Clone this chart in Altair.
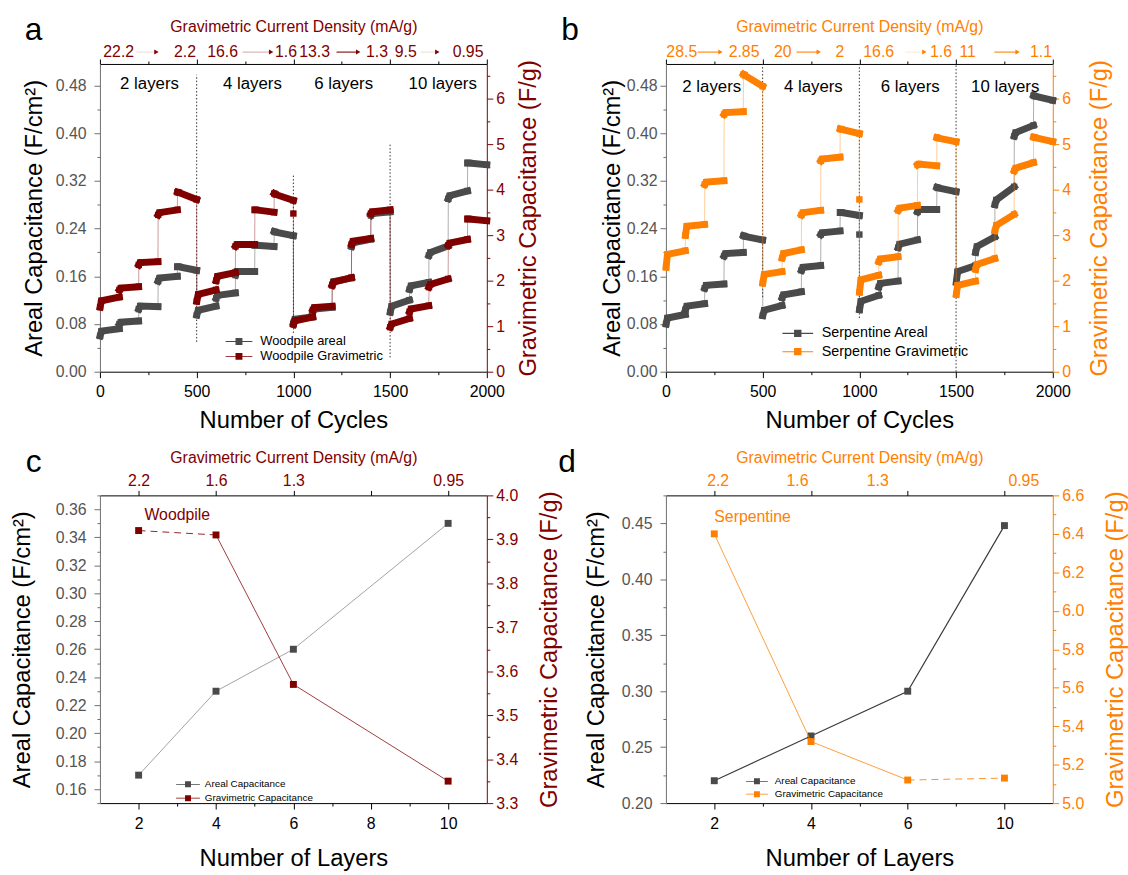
import altair as alt
import pandas as pd

FONT = "Liberation Sans"
INK = "#000000"
GRAY = "#4a4a4a"
AXIS_GRAY = "#6e6e6e"
LABEL_GRAY = "#555555"
WINE = "#800000"
ORANGE = "#ff8000"

# ---------------------------------------------------------------- values
LAYER_NAMES = ["2 layers", "4 layers", "6 layers", "10 layers"]
LAYER_COUNTS = [2, 4, 6, 10]
RATE_LABELS = ["2.2", "1.6", "1.3", "0.95"]

# Woodpile cycling: per 100-cycle rate step -> first point, plateau start, plateau end
wood_areal_first = [0.060, 0.080, 0.105, 0.152, 0.176, 0.095, 0.123, 0.162, 0.212, 0.235,
                    0.082, 0.100, 0.146, 0.210, 0.262, 0.100, 0.138, 0.195, 0.290, 0.350]
wood_areal_start = [0.068, 0.083, 0.110, 0.157, 0.176, 0.103, 0.128, 0.168, 0.212, 0.234,
                    0.088, 0.105, 0.151, 0.216, 0.265, 0.110, 0.144, 0.200, 0.295, 0.350]
wood_areal_end = [0.072, 0.085, 0.109, 0.160, 0.170, 0.110, 0.132, 0.168, 0.210, 0.228,
                  0.092, 0.108, 0.157, 0.222, 0.268, 0.120, 0.150, 0.211, 0.303, 0.347]
wood_grav_first = [1.42, 1.80, 2.35, 3.45, 3.95, 1.55, 2.00, 2.76, 3.56, 3.92,
                   1.04, 1.36, 1.90, 2.80, 3.48, 0.98, 1.32, 1.86, 2.78, 3.36]
wood_grav_start = [1.56, 1.84, 2.40, 3.50, 3.94, 1.70, 2.10, 2.80, 3.56, 3.90,
                   1.12, 1.41, 1.97, 2.87, 3.52, 1.05, 1.38, 1.92, 2.83, 3.36]
wood_grav_end = [1.64, 1.87, 2.42, 3.56, 3.79, 1.80, 2.18, 2.80, 3.51, 3.77,
                 1.20, 1.44, 2.07, 2.93, 3.56, 1.17, 1.45, 2.04, 2.91, 3.32]
wood_spike_areal_cycle, wood_spike_areal = [], []
wood_spike_grav_cycle, wood_spike_grav = [1000], [3.48]

# Serpentine cycling
serp_areal_first = [0.080, 0.104, 0.140, 0.194, 0.228, 0.094, 0.124, 0.170, 0.230, 0.267,
                    0.104, 0.142, 0.208, 0.268, 0.309, 0.150, 0.200, 0.280, 0.395, 0.463]
serp_areal_start = [0.090, 0.110, 0.145, 0.198, 0.227, 0.103, 0.129, 0.175, 0.233, 0.267,
                    0.118, 0.148, 0.214, 0.272, 0.308, 0.168, 0.210, 0.288, 0.401, 0.462]
serp_areal_end = [0.096, 0.114, 0.147, 0.200, 0.221, 0.111, 0.134, 0.178, 0.236, 0.262,
                  0.128, 0.152, 0.221, 0.272, 0.302, 0.178, 0.226, 0.310, 0.413, 0.455]
serp_grav_first = [2.30, 3.00, 4.12, 5.66, 6.54, 1.95, 2.50, 3.45, 4.64, 5.34,
                   1.75, 2.42, 3.55, 4.55, 5.15, 1.70, 2.25, 3.10, 4.42, 5.16]
serp_grav_start = [2.58, 3.20, 4.17, 5.70, 6.52, 2.14, 2.60, 3.50, 4.68, 5.33,
                   2.02, 2.48, 3.60, 4.57, 5.14, 1.90, 2.36, 3.22, 4.48, 5.15]
serp_grav_end = [2.66, 3.24, 4.20, 5.72, 6.28, 2.20, 2.68, 3.55, 4.72, 5.24,
                 2.12, 2.53, 3.66, 4.53, 5.06, 1.99, 2.49, 3.46, 4.60, 5.06]
serp_spike_areal_cycle, serp_spike_areal = [1000], [0.23]
serp_spike_grav_cycle, serp_spike_grav = [1000], [3.79]

# current-density annotations above the cycling panels (cycle = anchor on the x scale)
wood_rate_text = ["22.2", "2.2", "16.6", "1.6", "13.3", "1.3", "9.5", "0.95"]
wood_rate_cycle = [97, 440, 634, 962, 1110, 1432, 1581, 1903]
wood_arrow_from = [189, 737, 1223, 1657]
wood_arrow_to = [292, 885, 1335, 1744]
wood_arrow_alpha = [0.12, 0.3, 0.9, 0.12]
serp_rate_text = ["28.5", "2.85", "20", "2", "16.6", "1.6", "11", "1.1"]
serp_rate_cycle = [82, 404, 604, 900, 1100, 1422, 1560, 1939]
serp_arrow_from = [164, 675, 1237, 1698]
serp_arrow_to = [282, 790, 1336, 1818]
serp_arrow_alpha = [0.9, 0.9, 0.15, 0.9]

# layer-group captions and separators
wood_layer_cycle = [256, 788, 1260, 1772]
serp_layer_cycle = [237, 762, 1263, 1754]
sep_cycle = [500, 1000, 1500]
wood_sep_low = [0.050, 0.065, 0.024]
wood_sep_high = [0.498, 0.332, 0.382]
serp_sep_low = [0.125, 0.090, 0.0]
serp_sep_high = [0.516, 0.516, 0.516]

# capacitance vs number of layers
wood_areal_layers = [0.17, 0.23, 0.26, 0.35]
wood_grav_layers = [3.92, 3.91, 3.57, 3.35]
serp_areal_layers = [0.22, 0.26, 0.30, 0.448]
serp_grav_layers = [6.40, 5.32, 5.12, 5.13]
serp_rate_pos = [0.04, 0.86, 1.69, 3.2]

# ---------------------------------------------------------------- helpers
STEP = 100
STEP_POINTS = (1, 8, STEP)


def legend_symbol(half_len):
    # filled square marker with a thin line through it, in symbol units (square = [-1, 1])
    L = half_len
    return (f"M-{L},-0.14H-1V-1H1V-0.14H{L}V0.14H1V1H-1V0.14H-{L}Z")


def step_frame(first, start, end, series):
    rows = []
    for i, vals in enumerate(zip(first, start, end)):
        for k, (off, v) in enumerate(zip(STEP_POINTS, vals)):
            rows.append({"cycle": i * STEP + off, "value": v, "step": i,
                         "order": 3 * i + k, "series": series})
    return pd.DataFrame(rows)


def frange(lo, hi, step):
    n = int(round((hi - lo) / step))
    return [round(lo + i * step, 4) for i in range(n + 1)]


def minor_axis(orient, values, color):
    return alt.Axis(orient=orient, values=values, labels=False, domain=False,
                    tickSize=3, tickColor=color, title=None, grid=False)


def major_axis(orient, values, fmt, title, line_color, label_color, title_color, **kw):
    if orient == "right":
        kw.update(titleAngle=270, titleBaseline="top")
    return alt.Axis(orient=orient, values=values, format=fmt, title=title,
                    domainColor=line_color, tickColor=line_color, labelColor=label_color,
                    titleColor=title_color, grid=False, tickSize=6, labelFlush=False, **kw)


def make_legend(x, y, size, half_len, font_size, row_pad, offset):
    return alt.Legend(orient="none", legendX=x, legendY=y, title=None,
                      symbolType=legend_symbol(half_len), symbolSize=size, symbolStrokeWidth=0,
                      labelFont=FONT, labelFontSize=font_size, labelColor=INK,
                      rowPadding=row_pad, labelOffset=offset, padding=0)


def letter_layer(letter, dx):
    return alt.Chart(pd.DataFrame({"t": [letter]})).mark_text(
        font=FONT, fontSize=32, color=INK, align="center", baseline="alphabetic"
    ).encode(x=alt.value(dx), y=alt.value(-24), text="t:N")


def cycling_panel(areal, grav, spikes, names, accent, letter, letter_dx, rates, arrows,
                  seps, layer_cycle, layer_y, legend, left_label_pad, left_pad, right_pad):
    xs = alt.Scale(domain=[0, 2000], nice=False, zero=False)
    ya = alt.Scale(domain=[0, 0.516], nice=False, zero=False)
    yg = alt.Scale(domain=[0, 6.77], nice=False, zero=False)
    cs = alt.Scale(domain=names, range=[GRAY, accent])

    a_df = step_frame(*areal, names[0])
    g_df = step_frame(*grav, names[1])

    cyc_major = [0, 500, 1000, 1500, 2000]
    cyc_minor = [250, 750, 1250, 1750]
    x_bottom = major_axis("bottom", cyc_major, "d", "Number of Cycles", INK, INK, INK,
                          labelPadding=6, titlePadding=9)
    x_top = alt.Axis(orient="top", values=cyc_major, labels=False, grid=False, tickSize=5,
                     domainColor=INK, tickColor=INK,
                     title="Gravimetric Current Density (mA/g)", titleColor=accent,
                     titleFontSize=16, titlePadding=24)
    y_left = major_axis("left", frange(0, 0.48, 0.08), ".2f", "Areal Capacitance (F/cm²)",
                        AXIS_GRAY, LABEL_GRAY, INK, labelPadding=left_label_pad,
                        titlePadding=left_pad)
    y_right = major_axis("right", list(range(7)), "d", "Gravimetric Capacitance (F/g)",
                         accent, accent, accent, labelPadding=3, titlePadding=right_pad)

    sep_df = pd.DataFrame({"cycle": sep_cycle, "low": seps[0], "high": seps[1]})
    sep = alt.Chart(sep_df).mark_rule(color="#333333", strokeWidth=1, strokeDash=[1.5, 2]).encode(
        x=alt.X("cycle:Q", scale=xs, axis=minor_axis("top", cyc_minor, INK)),
        y=alt.Y("low:Q", scale=ya, axis=None), y2="high:Q")

    cap_df = pd.DataFrame({"cycle": layer_cycle, "value": [layer_y] * 4, "t": LAYER_NAMES})
    caps = alt.Chart(cap_df).mark_text(font=FONT, fontSize=17, color=INK, baseline="middle").encode(
        x=alt.X("cycle:Q", scale=xs, axis=None), y=alt.Y("value:Q", scale=ya, axis=None), text="t:N")

    thin_a = alt.Chart(a_df).mark_line(color=GRAY, strokeWidth=1, opacity=0.45).encode(
        x=alt.X("cycle:Q", scale=xs, axis=x_bottom),
        y=alt.Y("value:Q", scale=ya, axis=y_left), order="order:Q")
    thick_a = alt.Chart(a_df).mark_line(color=GRAY, strokeWidth=7, strokeCap="square").encode(
        x=alt.X("cycle:Q", scale=xs, axis=minor_axis("bottom", cyc_minor, INK)),
        y=alt.Y("value:Q", scale=ya, axis=minor_axis("left", frange(0.04, 0.52, 0.08)[:-1], AXIS_GRAY)),
        detail="step:N", order="order:Q")
    dots_a = alt.Chart(a_df).mark_square(size=42, opacity=1).encode(
        x=alt.X("cycle:Q", scale=xs, axis=x_top), y=alt.Y("value:Q", scale=ya, axis=None),
        color=alt.Color("series:N", scale=cs, legend=legend))

    rate_df = pd.DataFrame({"cycle": rates[1], "t": rates[0]})
    rate = alt.Chart(rate_df).mark_text(font=FONT, fontSize=16, color=accent,
                                        baseline="alphabetic").encode(
        x=alt.X("cycle:Q", scale=xs, axis=None), y=alt.value(-7), text="t:N")
    arr_df = pd.DataFrame({"start": arrows[0], "end": arrows[1], "alpha": arrows[2]})
    arr = alt.Chart(arr_df).mark_rule(color=accent, strokeWidth=1.2).encode(
        x=alt.X("start:Q", scale=xs, axis=None), x2="end:Q", y=alt.value(-12),
        opacity=alt.Opacity("alpha:Q", scale=None))
    heads = alt.Chart(arr_df).mark_point(shape="triangle-right", filled=True, size=26,
                                         color=accent, opacity=1).encode(
        x=alt.X("end:Q", scale=xs, axis=None), y=alt.value(-12))

    areal_layers = [sep, caps, thin_a, thick_a, dots_a, rate, arr, heads,
                    letter_layer(letter, letter_dx)]
    if spikes[0][0]:
        sp = pd.DataFrame({"cycle": spikes[0][0], "value": spikes[0][1]})
        areal_layers.append(alt.Chart(sp).mark_square(size=42, color=GRAY, opacity=1).encode(
            x=alt.X("cycle:Q", scale=xs, axis=None), y=alt.Y("value:Q", scale=ya, axis=None)))
    areal_group = alt.layer(*areal_layers).resolve_axis(x="independent", y="independent")

    thin_g = alt.Chart(g_df).mark_line(color=accent, strokeWidth=1, opacity=0.4).encode(
        x=alt.X("cycle:Q", scale=xs, axis=None),
        y=alt.Y("value:Q", scale=yg, axis=y_right), order="order:Q")
    thick_g = alt.Chart(g_df).mark_line(color=accent, strokeWidth=7, strokeCap="square").encode(
        x=alt.X("cycle:Q", scale=xs, axis=None),
        y=alt.Y("value:Q", scale=yg, axis=minor_axis("right", frange(0.5, 6.5, 1.0), accent)),
        detail="step:N", order="order:Q")
    dots_g = alt.Chart(g_df).mark_square(size=42, opacity=1).encode(
        x=alt.X("cycle:Q", scale=xs, axis=None), y=alt.Y("value:Q", scale=yg, axis=None),
        color=alt.Color("series:N", scale=cs, legend=legend))
    grav_layers = [thin_g, thick_g, dots_g]
    if spikes[1][0]:
        sp = pd.DataFrame({"cycle": spikes[1][0], "value": spikes[1][1]})
        grav_layers.append(alt.Chart(sp).mark_square(size=42, color=accent, opacity=1).encode(
            x=alt.X("cycle:Q", scale=xs, axis=None), y=alt.Y("value:Q", scale=yg, axis=None)))
    grav_group = alt.layer(*grav_layers).resolve_axis(y="independent")

    return alt.layer(areal_group, grav_group).resolve_scale(y="independent").properties(
        width=391, height=311)


def layers_panel(pos, areal, grav, names, accent, letter, letter_dx, x_domain, x_major, x_minor,
                 bottom_expr, top_expr, top_text_pos, ya_dom, ya_major, ya_minor, yg_dom, yg_major,
                 yg_minor, dashed, areal_style, tag, tag_x, tag_y, legend, left_label_pad,
                 left_pad, right_pad):
    xs = alt.Scale(domain=x_domain, nice=False, zero=False)
    ya = alt.Scale(domain=ya_dom, nice=False, zero=False)
    yg = alt.Scale(domain=yg_dom, nice=False, zero=False)
    cs = alt.Scale(domain=names, range=[GRAY, accent])

    a_df = pd.DataFrame({"pos": pos, "value": areal, "series": names[0]})
    g_df = pd.DataFrame({"pos": pos, "value": grav, "series": names[1]})
    seg_rows = []
    for k in range(len(pos) - 1):
        for j in (k, k + 1):
            seg_rows.append({"pos": pos[j], "value": grav[j], "seg": k, "dashed": k in dashed})
    seg_df = pd.DataFrame(seg_rows)

    bottom_kw = {"labelExpr": bottom_expr} if bottom_expr else {}
    x_bottom = major_axis("bottom", x_major, "d", "Number of Layers", INK, INK, INK,
                          labelPadding=7, titlePadding=15, **bottom_kw)
    if top_expr:
        x_top = alt.Axis(orient="top", values=x_major, labelExpr=top_expr, grid=False,
                         tickSize=5, domainColor=INK, tickColor=INK, labelColor=accent,
                         labelPadding=2, labelFlush=False,
                         title="Gravimetric Current Density (mA/g)", titleColor=accent,
                         titleFontSize=16, titlePadding=7)
    else:
        x_top = alt.Axis(orient="top", values=x_major, labels=False, grid=False, tickSize=5,
                         domainColor=INK, tickColor=INK,
                         title="Gravimetric Current Density (mA/g)", titleColor=accent,
                         titleFontSize=16, titlePadding=25)
    y_left = major_axis("left", ya_major, ".2f", "Areal Capacitance (F/cm²)", AXIS_GRAY,
                        LABEL_GRAY, INK, labelPadding=left_label_pad, titlePadding=left_pad)
    y_right = major_axis("right", yg_major, ".1f", "Gravimetric Capacitance (F/g)", accent,
                         accent, accent, labelPadding=3, titlePadding=right_pad)

    line_a = alt.Chart(a_df).mark_line(color=areal_style[0], strokeWidth=areal_style[1]).encode(
        x=alt.X("pos:Q", scale=xs, axis=x_bottom), y=alt.Y("value:Q", scale=ya, axis=y_left))
    dots_a = alt.Chart(a_df).mark_square(size=49, opacity=1).encode(
        x=alt.X("pos:Q", scale=xs, axis=minor_axis("bottom", x_minor, INK)),
        y=alt.Y("value:Q", scale=ya, axis=minor_axis("left", ya_minor, AXIS_GRAY)),
        color=alt.Color("series:N", scale=cs, legend=legend))
    tag_df = pd.DataFrame({"pos": [tag_x], "value": [tag_y], "t": [tag]})
    tag_l = alt.Chart(tag_df).mark_text(font=FONT, fontSize=16, color=accent, align="left",
                                        baseline="middle").encode(
        x=alt.X("pos:Q", scale=xs, axis=x_top), y=alt.Y("value:Q", scale=ya, axis=None),
        text="t:N")
    areal_layers = [line_a, dots_a, tag_l, letter_layer(letter, letter_dx)]
    if top_text_pos:
        td = pd.DataFrame({"pos": top_text_pos, "t": RATE_LABELS})
        areal_layers.append(alt.Chart(td).mark_text(font=FONT, fontSize=16, color=accent,
                                                    baseline="alphabetic").encode(
            x=alt.X("pos:Q", scale=xs, axis=None), y=alt.value(-9), text="t:N"))
    areal_group = alt.layer(*areal_layers).resolve_axis(x="independent", y="independent")

    solid = alt.Chart(seg_df[~seg_df["dashed"]]).mark_line(
        color=accent, strokeWidth=0.9, opacity=0.85).encode(
        x=alt.X("pos:Q", scale=xs, axis=minor_axis("top", x_minor, INK)),
        y=alt.Y("value:Q", scale=yg, axis=y_right), detail="seg:N")
    dash = alt.Chart(seg_df[seg_df["dashed"]]).mark_line(
        color=accent, strokeWidth=1, opacity=0.85, strokeDash=[7, 5]).encode(
        x=alt.X("pos:Q", scale=xs, axis=None), y=alt.Y("value:Q", scale=yg, axis=None),
        detail="seg:N")
    dots_g = alt.Chart(g_df).mark_square(size=49, opacity=1).encode(
        x=alt.X("pos:Q", scale=xs, axis=None),
        y=alt.Y("value:Q", scale=yg, axis=minor_axis("right", yg_minor, accent)),
        color=alt.Color("series:N", scale=cs, legend=legend))
    grav_group = alt.layer(solid, dash, dots_g).resolve_axis(y="independent")

    return alt.layer(areal_group, grav_group).resolve_scale(y="independent").properties(
        width=391, height=311)


# ---------------------------------------------------------------- panels
panel_a = cycling_panel(
    (wood_areal_first, wood_areal_start, wood_areal_end),
    (wood_grav_first, wood_grav_start, wood_grav_end),
    ((wood_spike_areal_cycle, wood_spike_areal), (wood_spike_grav_cycle, wood_spike_grav)),
    ["Woodpile areal", "Woodpile Gravimetric"], WINE, "a", -67,
    (wood_rate_text, wood_rate_cycle), (wood_arrow_from, wood_arrow_to, wood_arrow_alpha),
    (wood_sep_low, wood_sep_high), wood_layer_cycle, 0.483,
    make_legend(134, 274, 49, 3.86, 13, 1, 15), left_label_pad=8, left_pad=9, right_pad=12)

panel_b = cycling_panel(
    (serp_areal_first, serp_areal_start, serp_areal_end),
    (serp_grav_first, serp_grav_start, serp_grav_end),
    ((serp_spike_areal_cycle, serp_spike_areal), (serp_spike_grav_cycle, serp_spike_grav)),
    ["Serpentine Areal", "Serpentine Gravimetric"], ORANGE, "b", -97,
    (serp_rate_text, serp_rate_cycle), (serp_arrow_from, serp_arrow_to, serp_arrow_alpha),
    (serp_sep_low, serp_sep_high), serp_layer_cycle, 0.478,
    make_legend(126, 265, 56, 4.15, 14.5, 3.5, 17), left_label_pad=3, left_pad=2, right_pad=17)

top_expr_c = " : ".join(
    f"datum.value == {n} ? '{t}'" for n, t in zip(LAYER_COUNTS, RATE_LABELS)) + " : ''"

panel_c = layers_panel(
    LAYER_COUNTS, wood_areal_layers, wood_grav_layers,
    ["Areal Capacitance", "Gravimetric Capacitance"], WINE, "c", -67,
    [1, 11], [2, 4, 6, 8, 10], [3, 5, 7, 9], None, top_expr_c, None,
    [0.15, 0.37], frange(0.16, 0.36, 0.02), frange(0.15, 0.37, 0.02),
    [3.3, 4.0], frange(3.3, 4.0, 0.1), frange(3.35, 3.95, 0.1),
    [0], ("#8a8a8a", 0.8), "Woodpile", 2.15, 0.356,
    make_legend(84, 287, 36, 4.0, 10, 4, 12), left_label_pad=8, left_pad=21, right_pad=20)

bottom_expr_d = "[" + ",".join(f"'{n}'" for n in LAYER_COUNTS) + "][datum.value]"

panel_d = layers_panel(
    [0, 1, 2, 3], serp_areal_layers, serp_grav_layers,
    ["Areal Capacitance", "Gravimetric Capacitance"], ORANGE, "d", -100,
    [-0.5, 3.5], [0, 1, 2, 3], [0.5, 1.5, 2.5], bottom_expr_d, None, serp_rate_pos,
    [0.20, 0.475], frange(0.20, 0.45, 0.05), frange(0.225, 0.475, 0.05),
    [5.0, 6.6], frange(5.0, 6.6, 0.2), frange(5.1, 6.5, 0.2),
    [2], ("#3c3c3c", 1.2), "Serpentine", 0.0, 0.456,
    make_legend(87, 284, 36, 3.67, 10, 3, 13), left_label_pad=8, left_pad=13, right_pad=20)

chart = alt.concat(
    panel_a, panel_b, panel_c, panel_d, columns=2,
    spacing={"row": 125, "column": 181}, bounds="flush",
).resolve_scale(color="independent").properties(
    padding={"left": 10, "top": 10, "right": 0, "bottom": 0}
).configure_axis(
    labelFont=FONT, titleFont=FONT, labelFontSize=16, titleFontSize=24,
    titleFontWeight="normal", domainWidth=1, tickWidth=1,
).configure_view(stroke=None).configure_text(font=FONT)

chart.save("out.html", embed_options={"renderer": "svg", "actions": False})
